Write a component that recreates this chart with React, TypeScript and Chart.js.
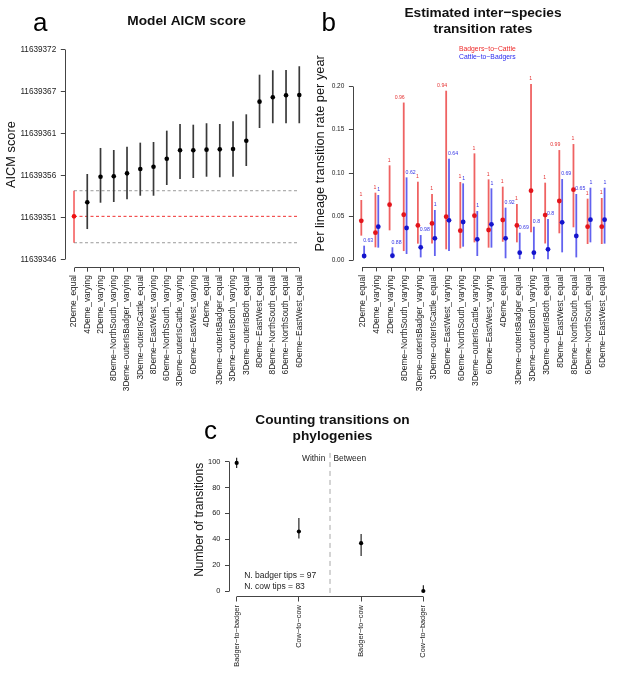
import React, { useEffect, useRef } from "react";
import { Chart, registerables } from "chart.js";

Chart.register(...registerables);

const FONT = "'Liberation Sans', Arial, Helvetica, sans-serif";
const W = 617;
const H = 678;

// ---------- Panel a: AICM ----------
const models = [
  "2Deme_equal",
  "4Deme_varying",
  "2Deme_varying",
  "8Deme−NorthSouth_varying",
  "3Deme−outerIsBadger_varying",
  "3Deme−outerIsCattle_equal",
  "8Deme−EastWest_varying",
  "6Deme−NorthSouth_varying",
  "3Deme−outerIsCattle_varying",
  "6Deme−EastWest_varying",
  "4Deme_equal",
  "3Deme−outerIsBadger_equal",
  "3Deme−outerIsBoth_varying",
  "3Deme−outerIsBoth_equal",
  "8Deme−EastWest_equal",
  "8Deme−NorthSouth_equal",
  "6Deme−NorthSouth_equal",
  "6Deme−EastWest_equal",
];
const aicmMean = [
  11639351.34, 11639353.08, 11639356.26, 11639356.31, 11639356.68, 11639357.22,
  11639357.5, 11639358.5, 11639359.54, 11639359.54, 11639359.62, 11639359.66,
  11639359.7, 11639360.73, 11639365.58, 11639366.12, 11639366.37, 11639366.41,
];
const aicmLow = [
  11639348.06, 11639349.76, 11639353.03, 11639353.12, 11639353.45, 11639353.9,
  11639353.9, 11639355.23, 11639355.97, 11639356.1, 11639356.26, 11639356.19,
  11639356.26, 11639357.59, 11639362.31, 11639362.9, 11639362.9, 11639362.9,
];
const aicmHigh = [
  11639354.52, 11639356.6, 11639359.83, 11639359.58, 11639359.99, 11639360.49,
  11639360.57, 11639361.98, 11639362.81, 11639362.72, 11639362.9, 11639362.81,
  11639363.14, 11639364.01, 11639368.93, 11639369.48, 11639369.52, 11639369.98,
];
const aicmTickLabels = ["11639346", "11639351", "11639356", "11639361", "11639367", "11639372"];
const aicmTickLow = 11639346;
const aicmTickHigh = 11639372;

// ---------- Panel b: transition rates ----------
const b2cMean = [0.045, 0.0314, 0.0636, 0.052, 0.0398, 0.042, 0.0498, 0.0337, 0.051, 0.0345, 0.046, 0.0398, 0.0797, 0.0517, 0.0678, 0.0808, 0.0383, 0.0383];
const b2cLow = [0.028, 0.0146, 0.0341, 0.0103, 0.0188, 0.019, 0.0123, 0.0134, 0.0203, 0.0142, 0.021, 0.0203, 0.0318, 0.019, 0.0307, 0.0376, 0.0184, 0.0184];
const b2cHigh = [0.069, 0.0774, 0.1088, 0.181, 0.09, 0.0759, 0.1946, 0.0897, 0.1226, 0.0927, 0.0843, 0.0644, 0.2023, 0.0889, 0.1264, 0.1333, 0.0705, 0.0713];
const b2cProb = ["1", "1", "1", "0.96", "1", "1", "0.94", "1", "1", "1", "1", "1", "1", "1", "0.99", "1", "1", "1"];
const c2bMean = [0.0046, 0.0383, 0.005, 0.0368, 0.0146, 0.0249, 0.0456, 0.0437, 0.0238, 0.041, 0.0249, 0.0084, 0.0084, 0.0123, 0.0433, 0.0276, 0.0464, 0.0464];
const c2bLow = [0.002, 0.0142, 0.002, 0.0069, 0.003, 0.0046, 0.0103, 0.0153, 0.0046, 0.0142, 0.002, 0.001, 0.001, 0.001, 0.0088, 0.003, 0.0203, 0.0188];
const c2bHigh = [0.0165, 0.0747, 0.0146, 0.095, 0.0287, 0.0575, 0.1165, 0.0881, 0.0563, 0.0824, 0.0602, 0.0314, 0.0383, 0.0471, 0.0931, 0.0759, 0.0831, 0.0831];
const c2bProb = ["0.63", "1", "0.88", "0.62", "0.98", "1", "0.64", "1", "1", "1", "0.92", "0.69", "0.8", "0.8", "0.69", "0.65", "1", "1"];
const rateTickValues = [0, 0.05, 0.1, 0.15, 0.2];
const rateTickLabels = ["0.00", "0.05", "0.10", "0.15", "0.20"];
const rateLegend = ["Badgers−to−Cattle", "Cattle−to−Badgers"];

// ---------- Panel c: counting transitions ----------
const transTypes = ["Badger−to−badger", "Cow−to−cow", "Badger−to−cow", "Cow−to−badger"];
const transMean = [99, 46, 37, 0];
const transLow = [95, 40.5, 27, 0];
const transHigh = [103, 56.5, 44, 4.5];
const countTickValues = [0, 20, 40, 60, 80, 100];
const countTickLabels = ["0", "20", "40", "60", "80", "100"];
const badgerTips = 97;
const cowTips = 83;

// ---------- helpers ----------
type Area = { left: number; top: number; right: number; bottom: number };

function txt(
  ctx: CanvasRenderingContext2D,
  s: string,
  x: number,
  y: number,
  size: number,
  color: string,
  align: CanvasTextAlign = "center",
  weight = "normal",
  baseline: CanvasTextBaseline = "middle"
) {
  ctx.save();
  ctx.font = `${weight} ${size}px ${FONT}`;
  ctx.fillStyle = color;
  ctx.textAlign = align;
  ctx.textBaseline = baseline;
  ctx.fillText(s, x, y);
  ctx.restore();
}

function vline(ctx: CanvasRenderingContext2D, x: number, y1: number, y2: number, color: string, width: number, dash: number[] = []) {
  ctx.save();
  ctx.strokeStyle = color;
  ctx.lineWidth = width;
  ctx.setLineDash(dash);
  ctx.beginPath();
  ctx.moveTo(x, y1);
  ctx.lineTo(x, y2);
  ctx.stroke();
  ctx.restore();
}

function hline(ctx: CanvasRenderingContext2D, x1: number, x2: number, y: number, color: string, width: number, dash: number[] = []) {
  ctx.save();
  ctx.strokeStyle = color;
  ctx.lineWidth = width;
  ctx.setLineDash(dash);
  ctx.beginPath();
  ctx.moveTo(x1, y);
  ctx.lineTo(x2, y);
  ctx.stroke();
  ctx.restore();
}

const al = (p: number) => Math.round(p - 0.5) + 0.5;

type Spec = {
  area: Area;
  xAxisHeight: number;
  xMin: number;
  xMax: number;
  yMin: number;
  yMax: number;
  xTickValues: number[];
  xTickLabels: string[];
  yTickValues: number[];
  yTickLabels: string[];
  xTickSize: number;
  yTickSize: number;
  xTickPad: number;
  tickLen: number;
  yTitle: string;
  yTitleSize: number;
  yTitleX: number;
  datasets: any[];
  beforeDatasets?: (chart: any) => void;
  afterDraw?: (chart: any) => void;
};

function build(canvas: HTMLCanvasElement, s: Spec) {
  const XH = s.xAxisHeight;
  const lh = s.yTitleSize * 1.2;
  const padLeft = s.yTitleX - lh / 2;
  const yWidth = s.area.left - padLeft;
  const plugin = {
    id: "rstyle",
    beforeDatasetsDraw(chart: any) {
      s.beforeDatasets && s.beforeDatasets(chart);
    },
    afterDraw(chart: any) {
      const { ctx, chartArea: a, scales } = chart;
      const x = scales.x;
      const y = scales.y;
      const xs = s.xTickValues;
      const ys = s.yTickValues;
      hline(ctx, al(x.getPixelForValue(xs[0])), al(x.getPixelForValue(xs[xs.length - 1])), al(a.bottom), "#444", 1);
      vline(ctx, al(a.left), al(y.getPixelForValue(ys[0])), al(y.getPixelForValue(ys[ys.length - 1])), "#444", 1);
      s.afterDraw && s.afterDraw(chart);
    },
  };
  return new Chart(canvas, {
    type: "scatter",
    data: { datasets: s.datasets },
    options: {
      responsive: false,
      animation: false,
      events: [],
      layout: {
        padding: {
          left: padLeft,
          top: s.area.top,
          right: W - s.area.right,
          bottom: H - s.area.bottom - XH,
        },
      },
      plugins: {
        legend: { display: false },
        tooltip: { enabled: false },
        title: { display: false },
      },
      scales: {
        x: {
          type: "linear",
          position: "bottom",
          min: s.xMin,
          max: s.xMax,
          afterBuildTicks: (sc: any) => {
            sc.ticks = s.xTickValues.map((v) => ({ value: v }));
          },
          afterFit: (sc: any) => {
            sc.height = XH;
          },
          ticks: {
            autoSkip: false,
            minRotation: 90,
            maxRotation: 90,
            padding: s.xTickPad,
            color: "#222",
            font: { family: FONT, size: s.xTickSize },
            callback: (_v: any, i: number) => s.xTickLabels[i],
          },
          grid: {
            display: true,
            drawOnChartArea: false,
            drawTicks: true,
            tickLength: s.tickLen,
            color: "#444",
            lineWidth: 1,
          },
          border: { display: false },
        },
        y: {
          type: "linear",
          position: "left",
          min: s.yMin,
          max: s.yMax,
          afterBuildTicks: (sc: any) => {
            sc.ticks = s.yTickValues.map((v) => ({ value: v }));
          },
          afterFit: (sc: any) => {
            sc.width = yWidth;
          },
          ticks: {
            autoSkip: false,
            padding: 4.6,
            color: "#222",
            font: { family: FONT, size: s.yTickSize },
            callback: (_v: any, i: number) => s.yTickLabels[i],
          },
          grid: {
            display: true,
            drawOnChartArea: false,
            drawTicks: true,
            tickLength: 4.2,
            color: "#444",
            lineWidth: 1,
          },
          border: { display: false },
          title: {
            display: true,
            text: s.yTitle,
            color: "#111",
            padding: 0,
            font: { family: FONT, size: s.yTitleSize, lineHeight: 1.2 },
          },
        },
      },
    },
    plugins: [plugin],
  } as any);
}

function errBar(chart: any, xv: number, lo: number, hi: number, color: string, width: number) {
  const { ctx, scales } = chart;
  const x = scales.x.getPixelForValue(xv);
  vline(ctx, x, scales.y.getPixelForValue(lo), scales.y.getPixelForValue(hi), color, width);
}

const cats = models.map((_, i) => i + 1);

function panelA(canvas: HTMLCanvasElement) {
  const step = (aicmTickHigh - aicmTickLow) / (aicmTickLabels.length - 1);
  const ext = 0.04 * (aicmTickHigh - aicmTickLow);
  return build(canvas, {
    area: { left: 65.0, top: 41.6, right: 308.3, bottom: 267.7 },
    xAxisHeight: 150,
    xMin: 1 - 0.04 * 17,
    xMax: 18 + 0.04 * 17,
    yMin: aicmTickLow - ext,
    yMax: aicmTickHigh + ext,
    xTickValues: cats,
    xTickLabels: models,
    yTickValues: aicmTickLabels.map((_, i) => aicmTickLow + i * step),
    yTickLabels: aicmTickLabels,
    xTickSize: 8.4,
    yTickSize: 8.2,
    xTickPad: 3.4,
    tickLen: 4,
    yTitle: "AICM score",
    yTitleSize: 12.8,
    yTitleX: 11,
    datasets: [
      {
        data: aicmMean.map((v, i) => ({ x: i + 1, y: v })),
        pointRadius: 2.3,
        pointBorderWidth: 0,
        pointBackgroundColor: aicmMean.map((_, i) => (i === 0 ? "#ee1111" : "#000")),
        showLine: false,
      },
    ],
    beforeDatasets(chart) {
      const { ctx, scales } = chart;
      const x1 = scales.x.getPixelForValue(1);
      const x2 = scales.x.getPixelForValue(models.length);
      hline(ctx, x1, x2, scales.y.getPixelForValue(aicmHigh[0]), "#9a9a9a", 1, [3, 2.5]);
      hline(ctx, x1, x2, scales.y.getPixelForValue(aicmLow[0]), "#9a9a9a", 1, [3, 2.5]);
      hline(ctx, x1, x2, scales.y.getPixelForValue(aicmMean[0]), "#f03030", 1, [3, 2.5]);
      aicmMean.forEach((_, i) => {
        errBar(chart, i + 1, aicmLow[i], aicmHigh[i], i === 0 ? "#f23a3a" : "#3a3a3a", i === 0 ? 1.3 : 1.7);
      });
    },
    afterDraw(chart) {
      const { ctx, chartArea: a } = chart;
      txt(ctx, "a", 33, 31, 26, "#000", "left", "normal", "alphabetic");
      txt(ctx, "Model AICM score", (a.left + a.right) / 2, 21, 13.7, "#111", "center", "bold");
    },
  });
}

function panelB(canvas: HTMLCanvasElement) {
  const off = 0.1;
  const redBar = "rgba(236,70,70,0.85)";
  const blueBar = "rgba(70,70,236,0.85)";
  return build(canvas, {
    area: { left: 353.1, top: 39.3, right: 612.9, bottom: 267.4 },
    xAxisHeight: 150,
    xMin: 1 - 0.04 * 17,
    xMax: 18 + 0.04 * 17,
    yMin: -0.0085,
    yMax: 0.2537,
    xTickValues: cats,
    xTickLabels: models,
    yTickValues: rateTickValues,
    yTickLabels: rateTickLabels,
    xTickSize: 8.4,
    yTickSize: 6.5,
    xTickPad: 3.6,
    tickLen: 4,
    yTitle: "Per lineage transition rate per year",
    yTitleSize: 12.8,
    yTitleX: 320,
    datasets: [
      {
        data: b2cMean.map((v, i) => ({ x: i + 1 - off, y: v })),
        pointRadius: 2.4,
        pointBorderWidth: 0,
        pointBackgroundColor: "#e3141b",
        showLine: false,
      },
      {
        data: c2bMean.map((v, i) => ({ x: i + 1 + off, y: v })),
        pointRadius: 2.4,
        pointBorderWidth: 0,
        pointBackgroundColor: "#1414cc",
        showLine: false,
      },
    ],
    beforeDatasets(chart) {
      b2cMean.forEach((_, i) => errBar(chart, i + 1 - off, b2cLow[i], b2cHigh[i], redBar, 1.8));
      c2bMean.forEach((_, i) => errBar(chart, i + 1 + off, c2bLow[i], c2bHigh[i], blueBar, 1.8));
    },
    afterDraw(chart) {
      const { ctx, chartArea: a, scales } = chart;
      b2cProb.forEach((p, i) => {
        const x = scales.x.getPixelForValue(i + 1 - off);
        const y = scales.y.getPixelForValue(b2cHigh[i]);
        txt(ctx, p, x + 1, y - 5, 5.2, "#e53535", "right");
      });
      c2bProb.forEach((p, i) => {
        const x = scales.x.getPixelForValue(i + 1 + off);
        const y = scales.y.getPixelForValue(c2bHigh[i]);
        txt(ctx, p, x - 1, y - 5, 5.2, "#3535e5", "left");
      });
      txt(ctx, rateLegend[0], 459, 49.3, 6.8, "#ee2a2a", "left");
      txt(ctx, rateLegend[1], 459, 56.8, 6.8, "#2a2aee", "left");
      const cx = (a.left + a.right) / 2;
      txt(ctx, "b", 321.5, 31, 26, "#000", "left", "normal", "alphabetic");
      txt(ctx, "Estimated inter−species", cx, 13.3, 13.7, "#111", "center", "bold");
      txt(ctx, "transition rates", cx, 29.3, 13.7, "#111", "center", "bold");
    },
  });
}

function panelC(canvas: HTMLCanvasElement) {
  const tc = transTypes.map((_, i) => i + 1);
  return build(canvas, {
    area: { left: 229.2, top: 443, right: 430.8, bottom: 596.7 },
    xAxisHeight: 78,
    xMin: 1 - 0.04 * 3,
    xMax: 4 + 0.04 * 3,
    yMin: -0.04 * 110,
    yMax: 110 + 0.04 * 110,
    xTickValues: tc,
    xTickLabels: transTypes,
    yTickValues: countTickValues,
    yTickLabels: countTickLabels,
    xTickSize: 7.4,
    yTickSize: 7.4,
    xTickPad: 3.6,
    tickLen: 4.8,
    yTitle: "Number of transitions",
    yTitleSize: 12,
    yTitleX: 200,
    datasets: [
      {
        data: transMean.map((v, i) => ({ x: i + 1, y: v })),
        pointRadius: 2.1,
        pointBorderWidth: 0,
        pointBackgroundColor: "#000",
        showLine: false,
      },
    ],
    beforeDatasets(chart) {
      const { ctx, scales } = chart;
      const xd = scales.x.getPixelForValue(2.5);
      vline(ctx, xd, scales.y.getPixelForValue(-1.5), scales.y.getPixelForValue(106.7), "#a8a8a8", 1, [5, 4]);
      transMean.forEach((_, i) => errBar(chart, i + 1, transLow[i], transHigh[i], "#111", 1.1));
    },
    afterDraw(chart) {
      const { ctx, scales } = chart;
      const xd = scales.x.getPixelForValue(2.5);
      const yw = scales.y.getPixelForValue(102);
      txt(ctx, "Within", xd - 4.7, yw, 8.4, "#222", "right");
      txt(ctx, "Between", xd + 3.5, yw, 8.4, "#222", "left");
      const xa = scales.x.getPixelForValue(1.12);
      txt(ctx, `N. badger tips = ${badgerTips}`, xa, scales.y.getPixelForValue(11.6), 8.5, "#222", "left");
      txt(ctx, `N. cow tips = ${cowTips}`, xa, scales.y.getPixelForValue(3.3), 8.5, "#222", "left");
      txt(ctx, "c", 204, 438.5, 26, "#000", "left", "normal", "alphabetic");
      txt(ctx, "Counting transitions on", 332.5, 420, 13.7, "#111", "center", "bold");
      txt(ctx, "phylogenies", 332.5, 436, 13.7, "#111", "center", "bold");
    },
  });
}

export default function App() {
  const refA = useRef<HTMLCanvasElement>(null);
  const refB = useRef<HTMLCanvasElement>(null);
  const refC = useRef<HTMLCanvasElement>(null);

  useEffect(() => {
    const charts: Chart[] = [];
    if (refA.current) charts.push(panelA(refA.current));
    if (refB.current) charts.push(panelB(refB.current));
    if (refC.current) charts.push(panelC(refC.current));
    return () => {
      charts.forEach((c) => c.destroy());
    };
  }, []);

  const cs: React.CSSProperties = {
    position: "absolute",
    left: 0,
    top: 0,
    width: W,
    height: H,
  };

  return (
    <div style={{ position: "absolute", left: 0, top: 0, width: W, height: H, background: "#fff", overflow: "hidden" }}>
      <canvas ref={refA} width={W} height={H} style={cs} />
      <canvas ref={refB} width={W} height={H} style={cs} />
      <canvas ref={refC} width={W} height={H} style={cs} />
    </div>
  );
}
